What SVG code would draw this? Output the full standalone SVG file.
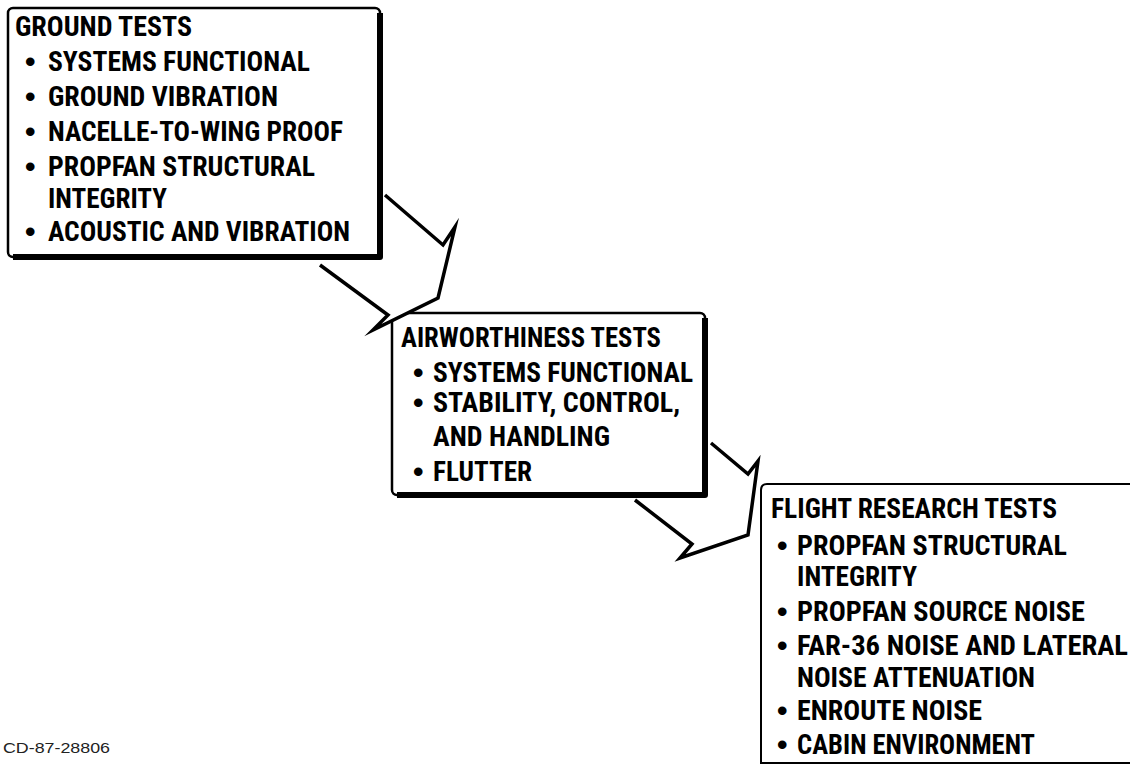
<svg xmlns="http://www.w3.org/2000/svg" width="1130" height="765" viewBox="0 0 1130 765">
<style>
.bg{fill:#fff}
.frame{fill:#fff;stroke:#000;stroke-width:2.5}
.shadow{fill:none;stroke:#000;stroke-width:6;stroke-linejoin:round}
.t{font-family:"Liberation Sans Narrow","Roboto Condensed","DejaVu Sans Condensed","Liberation Sans",Arial,sans-serif;font-weight:bold;font-size:27px;fill:#000}
.b{font-family:"Liberation Sans",Arial,sans-serif;font-weight:bold;font-size:30px;fill:#000}
.afill{fill:#fff;stroke:none}
.aline{fill:none;stroke:#000;stroke-width:3.5;stroke-linejoin:miter;stroke-miterlimit:10}
.id{font-family:"Liberation Sans",Arial,sans-serif;font-size:15px;fill:#222}
</style>
<rect class="bg" x="0" y="0" width="1130" height="765"/>

<g id="ground-tests">
  <rect class="frame" x="8" y="8" width="372" height="249" rx="5"/>
  <path class="shadow" d="M380,13 V257 H13"/>
  <text class="t" x="15" y="36" textLength="177" lengthAdjust="spacingAndGlyphs">GROUND TESTS</text>
  <text class="b" x="25" y="72">•</text>
  <text class="t" x="48" y="71" textLength="262" lengthAdjust="spacingAndGlyphs">SYSTEMS FUNCTIONAL</text>
  <text class="b" x="25" y="107">•</text>
  <text class="t" x="48" y="106" textLength="230" lengthAdjust="spacingAndGlyphs">GROUND VIBRATION</text>
  <text class="b" x="25" y="142">•</text>
  <text class="t" x="48" y="141" textLength="295" lengthAdjust="spacingAndGlyphs">NACELLE-TO-WING PROOF</text>
  <text class="b" x="25" y="177">•</text>
  <text class="t" x="48" y="176" textLength="267" lengthAdjust="spacingAndGlyphs">PROPFAN STRUCTURAL</text>
  <text class="t" x="48" y="208" textLength="119" lengthAdjust="spacingAndGlyphs">INTEGRITY</text>
  <text class="b" x="25" y="242">•</text>
  <text class="t" x="48" y="241" textLength="302" lengthAdjust="spacingAndGlyphs">ACOUSTIC AND VIBRATION</text>
</g>

<g id="airworthiness-tests">
  <rect class="frame" x="392" y="313" width="313" height="182" rx="5"/>
  <path class="shadow" d="M705,318 V495 H397"/>
  <text class="t" x="401" y="347" textLength="260" lengthAdjust="spacingAndGlyphs">AIRWORTHINESS TESTS</text>
  <text class="b" x="413" y="383">•</text>
  <text class="t" x="433" y="382" textLength="260" lengthAdjust="spacingAndGlyphs">SYSTEMS FUNCTIONAL</text>
  <text class="b" x="413" y="413">•</text>
  <text class="t" x="433" y="412" textLength="247" lengthAdjust="spacingAndGlyphs">STABILITY, CONTROL,</text>
  <text class="t" x="433" y="446" textLength="177" lengthAdjust="spacingAndGlyphs">AND HANDLING</text>
  <text class="b" x="413" y="482">•</text>
  <text class="t" x="433" y="481" textLength="99" lengthAdjust="spacingAndGlyphs">FLUTTER</text>
</g>

<g id="flight-research-tests">
  <path fill="#fff" stroke="#000" stroke-width="2" d="M1140,484 H767 Q761,484 761,490 V763 H1140"/>
  <text class="t" x="771" y="518" textLength="286" lengthAdjust="spacingAndGlyphs">FLIGHT RESEARCH TESTS</text>
  <text class="b" x="777" y="556">•</text>
  <text class="t" x="797" y="555" textLength="270" lengthAdjust="spacingAndGlyphs">PROPFAN STRUCTURAL</text>
  <text class="t" x="797" y="586" textLength="120" lengthAdjust="spacingAndGlyphs">INTEGRITY</text>
  <text class="b" x="777" y="622">•</text>
  <text class="t" x="797" y="621" textLength="288" lengthAdjust="spacingAndGlyphs">PROPFAN SOURCE NOISE</text>
  <text class="b" x="777" y="656">•</text>
  <text class="t" x="797" y="655" textLength="331" lengthAdjust="spacingAndGlyphs">FAR-36 NOISE AND LATERAL</text>
  <text class="t" x="797" y="687" textLength="238" lengthAdjust="spacingAndGlyphs">NOISE ATTENUATION</text>
  <text class="b" x="777" y="721">•</text>
  <text class="t" x="797" y="720" textLength="185" lengthAdjust="spacingAndGlyphs">ENROUTE NOISE</text>
  <text class="b" x="777" y="755">•</text>
  <text class="t" x="797" y="754" textLength="238" lengthAdjust="spacingAndGlyphs">CABIN ENVIRONMENT</text>
</g>

<g id="connectors">
  <path class="afill" d="M385,195 L443,245 L455,227 L438,298 L373,330 L388,315 L320,262 L384,262 L384,195 Z"/>
  <path class="aline" d="M385,195 L443,245 L455,227 L438,298 L373,330 L388,315 L320,265"/>
  <path class="afill" d="M711,443 L748,474 L758,461 L748,535 L680,558 L692,544 L635,500 L709,500 L709,443 Z"/>
  <path class="aline" d="M711,443 L748,474 L758,461 L748,535 L680,558 L692,544 L635,500"/>
</g>

<text class="id" x="3" y="753" textLength="107" lengthAdjust="spacingAndGlyphs">CD-87-28806</text>
</svg>
